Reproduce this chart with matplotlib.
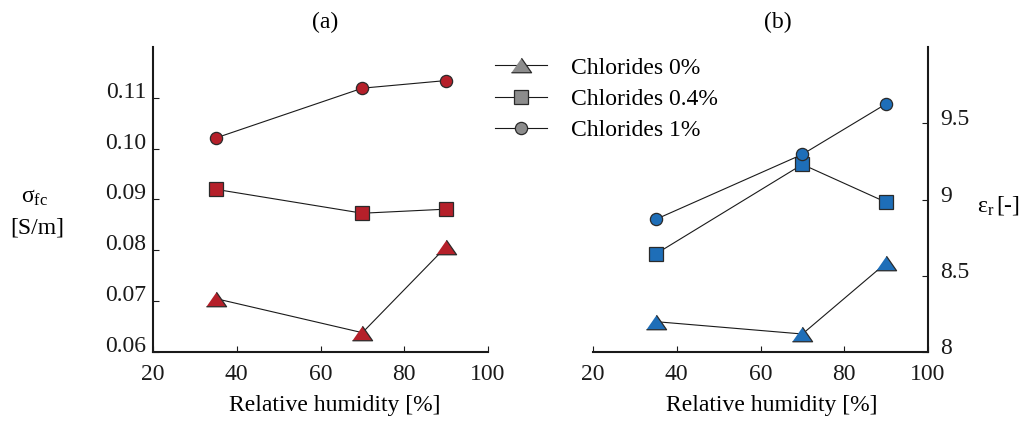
import matplotlib
matplotlib.use("Agg")
import matplotlib.pyplot as plt
import matplotlib.transforms as mtransforms
from matplotlib.lines import Line2D

plt.rcParams['font.family'] = ['Liberation Serif', 'DejaVu Serif']
plt.rcParams['mathtext.fontset'] = 'custom'
plt.rcParams['mathtext.rm'] = 'Liberation Serif'
plt.rcParams['mathtext.it'] = 'Liberation Serif:italic'

# ---- data ----
humidity = [35, 70, 90]
labels = ['Chlorides 0%', 'Chlorides 0.4%', 'Chlorides 1%']

sigma_cl0 = [0.0705, 0.0638, 0.0807]
sigma_cl04 = [0.0920, 0.0873, 0.0881]
sigma_cl1 = [0.1021, 0.1119, 0.1134]

eps_cl0 = [8.199, 8.118, 8.584]
eps_cl04 = [8.643, 9.230, 8.982]
eps_cl1 = [8.870, 9.296, 9.627]

xticks = [20, 40, 60, 80, 100]
sigma_ticks = [0.06, 0.07, 0.08, 0.09, 0.10, 0.11]
sigma_ticklabels = ['0.06', '0.07', '0.08', '0.09', '0.10', '0.11']
eps_ticks = [8, 8.5, 9, 9.5]
eps_ticklabels = ['8', '8.5', '9', '9.5']

RED = '#B5202A'
BLUE = '#1E6EB8'
GRAY = '#8C8C8C'
EDGE = '#2a2a2a'
FS = 17

tri = [(-1, -0.72), (1, -0.72), (0, 0.72)]
marker_specs = [(tri, 14.5), ('s', 9.6), ('o', 8.8)]

fig = plt.figure(figsize=(10.23, 4.25), dpi=100)
axA = fig.add_axes([153/1023, 1-352/425, (488-153)/1023, 305/425])
axB = fig.add_axes([593/1023, 1-352/425, (928-593)/1023, 305/425])


def draw(ax, series, color):
    for vals, (m, ms) in zip(series, marker_specs):
        ax.plot(humidity, vals, color='#1a1a1a', lw=0.8,
                marker=m, markersize=ms, markerfacecolor=color,
                markeredgecolor=EDGE, markeredgewidth=0.9, zorder=3)


draw(axA, [sigma_cl0, sigma_cl04, sigma_cl1], RED)
draw(axB, [eps_cl0, eps_cl04, eps_cl1], BLUE)

for ax in (axA, axB):
    ax.set_xlim(20, 100)
    ax.set_xticks(xticks)
    ax.set_xticklabels([str(t) for t in xticks])
    ax.tick_params(axis='both', direction='in', length=4, width=0.8,
                   labelsize=FS, colors='#1a1a1a')
    ax.tick_params(axis='x', pad=9)
    ax.set_xlabel('Relative humidity [%]', fontsize=FS)
    ax.spines['top'].set_visible(False)
    ax.patch.set_visible(False)
    for s in ax.spines.values():
        s.set_linewidth(1.5)
        s.set_color('#1a1a1a')

axA.spines['right'].set_visible(False)
axA.set_ylim(0.06, 0.12)
axA.set_yticks(sigma_ticks)
axA.set_yticklabels(sigma_ticklabels)
axA.tick_params(axis='y', pad=5)
axA.xaxis.set_label_coords((335-153)/335, -0.14)

axB.spines['left'].set_visible(False)
axB.yaxis.tick_right()
axB.set_ylim(8, 10)
axB.set_yticks(eps_ticks)
axB.set_yticklabels(eps_ticklabels)
axB.tick_params(axis='y', pad=9)
axB.xaxis.set_label_coords((772-593)/335, -0.14)

offA = mtransforms.ScaledTranslation(0, 8/100, fig.dpi_scale_trans)
for lab in axA.get_yticklabels():
    lab.set_transform(lab.get_transform() + offA)
offB = mtransforms.ScaledTranslation(0, 6/100, fig.dpi_scale_trans)
for lab in axB.get_yticklabels():
    lab.set_transform(lab.get_transform() + offB)

fig.text(325/1023, 1-22/425, '(a)', fontsize=FS, ha='center', va='center')
fig.text(778/1023, 1-22/425, '(b)', fontsize=FS, ha='center', va='center')

fig.text(35/1023, 1-198/425, r'$\mathrm{σ}_{\mathrm{fc}}$', fontsize=FS,
         ha='center', va='center')
fig.text(37/1023, 1-228/425, '[S/m]', fontsize=FS, ha='center', va='center')
fig.text(998/1023, 1-205/425, r'$\mathrm{ε}_{\mathrm{r}}\,$[-]', fontsize=FS,
         ha='center', va='center')

handles = [Line2D([], [], color='#1a1a1a', lw=0.8, marker=m, markersize=ms,
                  markerfacecolor=GRAY, markeredgecolor=EDGE,
                  markeredgewidth=0.9)
           for (m, ms) in marker_specs]
fig.legend(handles, labels, loc='upper left',
           bbox_to_anchor=(495/1023, 1-57/425), frameon=False,
           fontsize=FS, handlelength=2.2, handletextpad=1.0,
           labelspacing=0.42, borderpad=0, borderaxespad=0)

fig.savefig('out.png', dpi=100)
